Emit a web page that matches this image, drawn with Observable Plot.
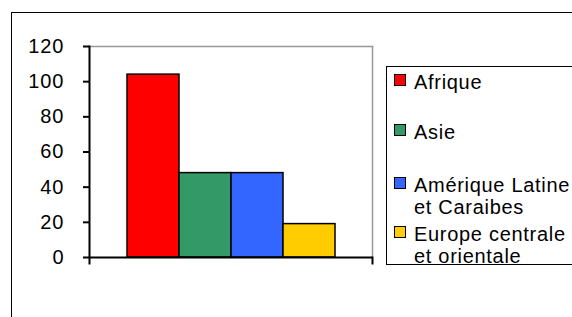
<!DOCTYPE html>
<html>
<head>
<meta charset="utf-8">
<script src="https://cdn.jsdelivr.net/npm/d3@7"></script>
<script src="https://cdn.jsdelivr.net/npm/@observablehq/plot@0.6"></script>
<style>
  body { margin: 0; background: #fff; }
  #wrap { position: relative; width: 572px; height: 317px; overflow: hidden; background: #fff;
          font-family: "Liberation Sans", Arial, sans-serif; }
  #border { position: absolute; left: 11px; top: 12px; width: 640px; height: 400px; border: 1px solid #000; }
  #chart { position: absolute; left: 0; top: 0; }
  #legend { position: absolute; left: 386px; top: 66px; width: 300px; height: 197px;
            border: 1px solid #000; background: #fff; }
  .item { position: absolute; left: 0; font-size: 20px; line-height: 22px; letter-spacing: 0.7px; color: #000; }
  .sw { position: absolute; left: 7px; top: 3px; width: 10px; height: 10px; border: 1px solid #000; }
  .lbl { position: absolute; left: 27px; top: 0; width: 170px; white-space: normal; }
</style>
</head>
<body>
<div id="wrap">
  <div id="border"></div>
  <div id="chart"></div>
  <div id="legend"></div>
</div>
<script>
const regions = ["Afrique", "Asie", "Amérique Latine et Caraibes", "Europe centrale et orientale"];
const values = [104, 48, 48, 19];
const colors = ["#FF0000", "#339966", "#3366FF", "#FFCC00"];
const yTicks = [0, 20, 40, 60, 80, 100, 120];
const legendTops = [4, 54, 107, 156];

const data = regions.map((r, i) => ({region: r, value: values[i]}));

const chart = Plot.plot({
  width: 572,
  height: 317,
  marginLeft: 89,
  marginRight: 200,
  marginTop: 46,
  marginBottom: 60,
  style: {fontFamily: "'Liberation Sans', Arial, sans-serif", fontSize: "20px", background: "transparent", letterSpacing: "1px", overflow: "visible"},
  x: {domain: regions, paddingInner: 0, paddingOuter: 0.72, axis: null},
  y: {domain: [0, 120], axis: null},
  color: {domain: regions, range: colors},
  marks: [
    Plot.frame({anchor: "top", stroke: "#999", strokeWidth: 1.5}),
    Plot.frame({anchor: "right", stroke: "#999", strokeWidth: 1.5}),
    Plot.barY(data, {x: "region", y: "value", fill: "region", stroke: "#000", strokeWidth: 1.5}),
    Plot.ruleY([0], {stroke: "#000", strokeWidth: 2}),
    Plot.frame({anchor: "left", stroke: "#000", strokeWidth: 2, insetBottom: -6}),
    Plot.frame({anchor: "right", stroke: "#000", strokeWidth: 2, insetTop: 211, insetBottom: -6}),
    Plot.axisY({ticks: yTicks, label: null, tickSize: 6, tickPadding: 19, strokeWidth: 2, stroke: "#000", fill: "#000", fontSize: 20})
  ]
});
document.getElementById("chart").appendChild(chart);

const legend = document.getElementById("legend");
regions.forEach((r, i) => {
  const item = document.createElement("div");
  item.className = "item";
  item.style.top = legendTops[i] + "px";
  const sw = document.createElement("div");
  sw.className = "sw";
  sw.style.background = colors[i];
  const lbl = document.createElement("div");
  lbl.className = "lbl";
  lbl.textContent = r;
  item.appendChild(sw);
  item.appendChild(lbl);
  legend.appendChild(item);
});
</script>
</body>
</html>
